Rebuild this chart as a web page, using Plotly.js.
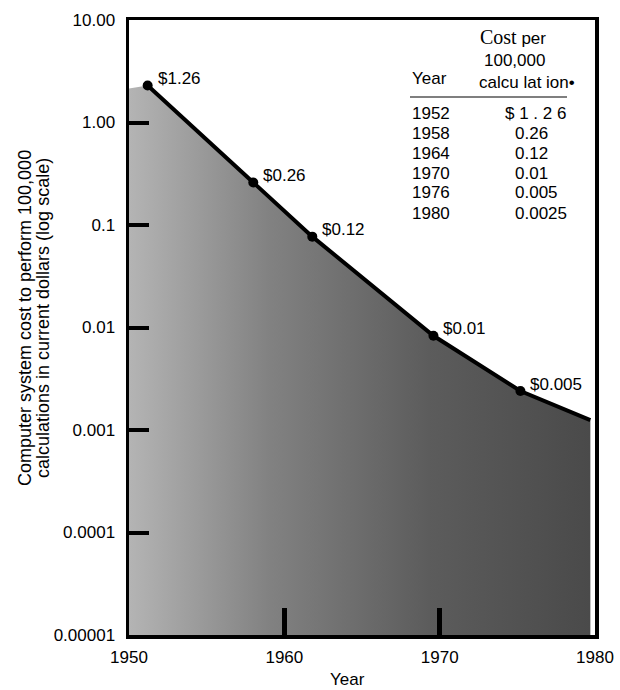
<!DOCTYPE html>
<html>
<head>
<meta charset="utf-8">
<script src="https://cdn.plot.ly/plotly-3.0.1.min.js"></script>
<style>html,body{margin:0;padding:0;background:#fff;}#chart{width:620px;height:690px;}</style>
</head>
<body>
<div id="chart"></div>
<script>
// Points marked on the curve
const pointYears = [1951.2, 1958.0, 1961.8, 1969.6, 1975.2];
const pointCosts = [2.3, 0.26, 0.077, 0.0083, 0.0024];
const pointLabels = ["$1.26", "$0.26", "$0.12", "$0.01", "$0.005"];
// End of the curve at the right edge
const endYear = 1979.7;
const endCost = 0.00125;
// Shaded area: top at the left edge, and its floor
const fillStartYear = 1950;
const fillStartCost = 2.15;
const baseCost = 0.00001;

// Inset table
const tableYears = ["1952", "1958", "1964", "1970", "1976", "1980"];
const tableCosts = ["$ 1 . 2 6", "0.26", "0.12", "0.01", "0.005", "0.0025"];

// Axis ticks
const xTicks = [1950, 1960, 1970, 1980];
const yTickVals = [10, 1, 0.1, 0.01, 0.001, 0.0001, 0.00001];
const yTickText = ["10.00", "1.00", "0.1", "0.01", "0.001", "0.0001", "0.00001"];

const lineX = pointYears.concat([endYear]);
const lineY = pointCosts.concat([endCost]);

const fillX = [fillStartYear].concat(lineX, [endYear, fillStartYear]);
const fillY = [fillStartCost].concat(lineY, [baseCost, baseCost]);

const FONT = "Liberation Sans, Arial, Helvetica, sans-serif";
const SERIF = "Liberation Serif, Times New Roman, serif";
const FS = 17;

const traces = [
  {
    x: fillX, y: fillY, type: "scatter", mode: "lines",
    fill: "toself", line: {width: 0, color: "rgba(0,0,0,0)"},
    fillgradient: {type: "horizontal",
      colorscale: [[0, "#b4b4b4"], [0.3, "#828282"], [0.65, "#5c5c5c"], [1, "#4a4a4a"]]},
    hoverinfo: "skip", showlegend: false
  },
  {
    x: lineX, y: lineY, type: "scatter", mode: "lines",
    line: {color: "#000", width: 4}, showlegend: false
  },
  {
    x: pointYears, y: pointCosts, type: "scatter", mode: "markers",
    marker: {color: "#000", size: 10}, showlegend: false
  }
];

const annotations = pointLabels.map((t, i) => ({
  x: pointYears[i], y: Math.log10(pointCosts[i]), xref: "x", yref: "y",
  text: t, showarrow: false, xanchor: "left", yanchor: "middle",
  xshift: 8, yshift: 7, font: {family: FONT, size: FS, color: "#000"}
}));

const W = 620, H = 690, L = 129, R = 25, T = 20, B = 55;
const pw = W - L - R, ph = H - T - B;
const px = v => (v - L) / pw;
const py = v => (H - B - v) / ph;

function addText(text, x, y, opts) {
  annotations.push(Object.assign({
    x: px(x), y: py(y), xref: "paper", yref: "paper", text: text,
    showarrow: false, xanchor: "left", yanchor: "middle",
    font: {family: FONT, size: FS, color: "#000"}
  }, opts || {}));
}
// table header and rows
addText('<span style="font-family:' + SERIF + ';font-size:20px">Cost</span> per', 478, 37);
addText("100,000", 482, 60);
addText("calcu lat ion\u2022", 477, 83);
addText("Year", 410, 78);
tableYears.forEach((t, i) => addText(t, 410, 113 + i * 20));
tableCosts.forEach((t, i) => addText(t, i === 0 ? 503 : 513, 113 + i * 20));

// axis titles
addText("Computer system cost to perform 100,000", 25, 318,
  {xanchor: "center", yanchor: "middle", textangle: -90, font: {family: FONT, size: 18, color: "#000"}});
addText("calculations in current dollars (log scale)", 43, 318,
  {xanchor: "center", yanchor: "middle", textangle: -90, font: {family: FONT, size: 18, color: "#000"}});
addText("Year", 347, 679, {xanchor: "center"});

const layout = {
  width: W, height: H,
  margin: {l: L, r: R, t: T, b: B},
  paper_bgcolor: "#fff", plot_bgcolor: "#fff",
  font: {family: FONT, size: FS, color: "#000"},
  showlegend: false,
  xaxis: {
    range: [1950, 1980], tickvals: xTicks, ticktext: xTicks.map(String),
    ticks: "inside", ticklen: 27, tickwidth: 5, tickcolor: "#000",
    showline: true, linewidth: 3.5, linecolor: "#000", mirror: true,
    showgrid: false, zeroline: false, ticklabelstandoff: 4,
    tickfont: {family: FONT, size: FS, color: "#000"},
    automargin: false
  },
  yaxis: {
    type: "log", range: [-5, 1], tickvals: yTickVals, ticktext: yTickText,
    ticks: "inside", ticklen: 20, tickwidth: 4, tickcolor: "#000",
    showline: true, linewidth: 3.5, linecolor: "#000", mirror: true,
    showgrid: false, zeroline: false, ticklabelstandoff: 7,
    tickfont: {family: FONT, size: FS, color: "#000"},
    automargin: false
  },
  shapes: [
    {type: "line", xref: "paper", yref: "paper", x0: px(410), x1: px(567), y0: py(97), y1: py(97),
     line: {color: "#555", width: 1.5}}
  ],
  annotations: annotations
};

Plotly.newPlot("chart", traces, layout, {displayModeBar: false, staticPlot: true});
</script>
</body>
</html>
